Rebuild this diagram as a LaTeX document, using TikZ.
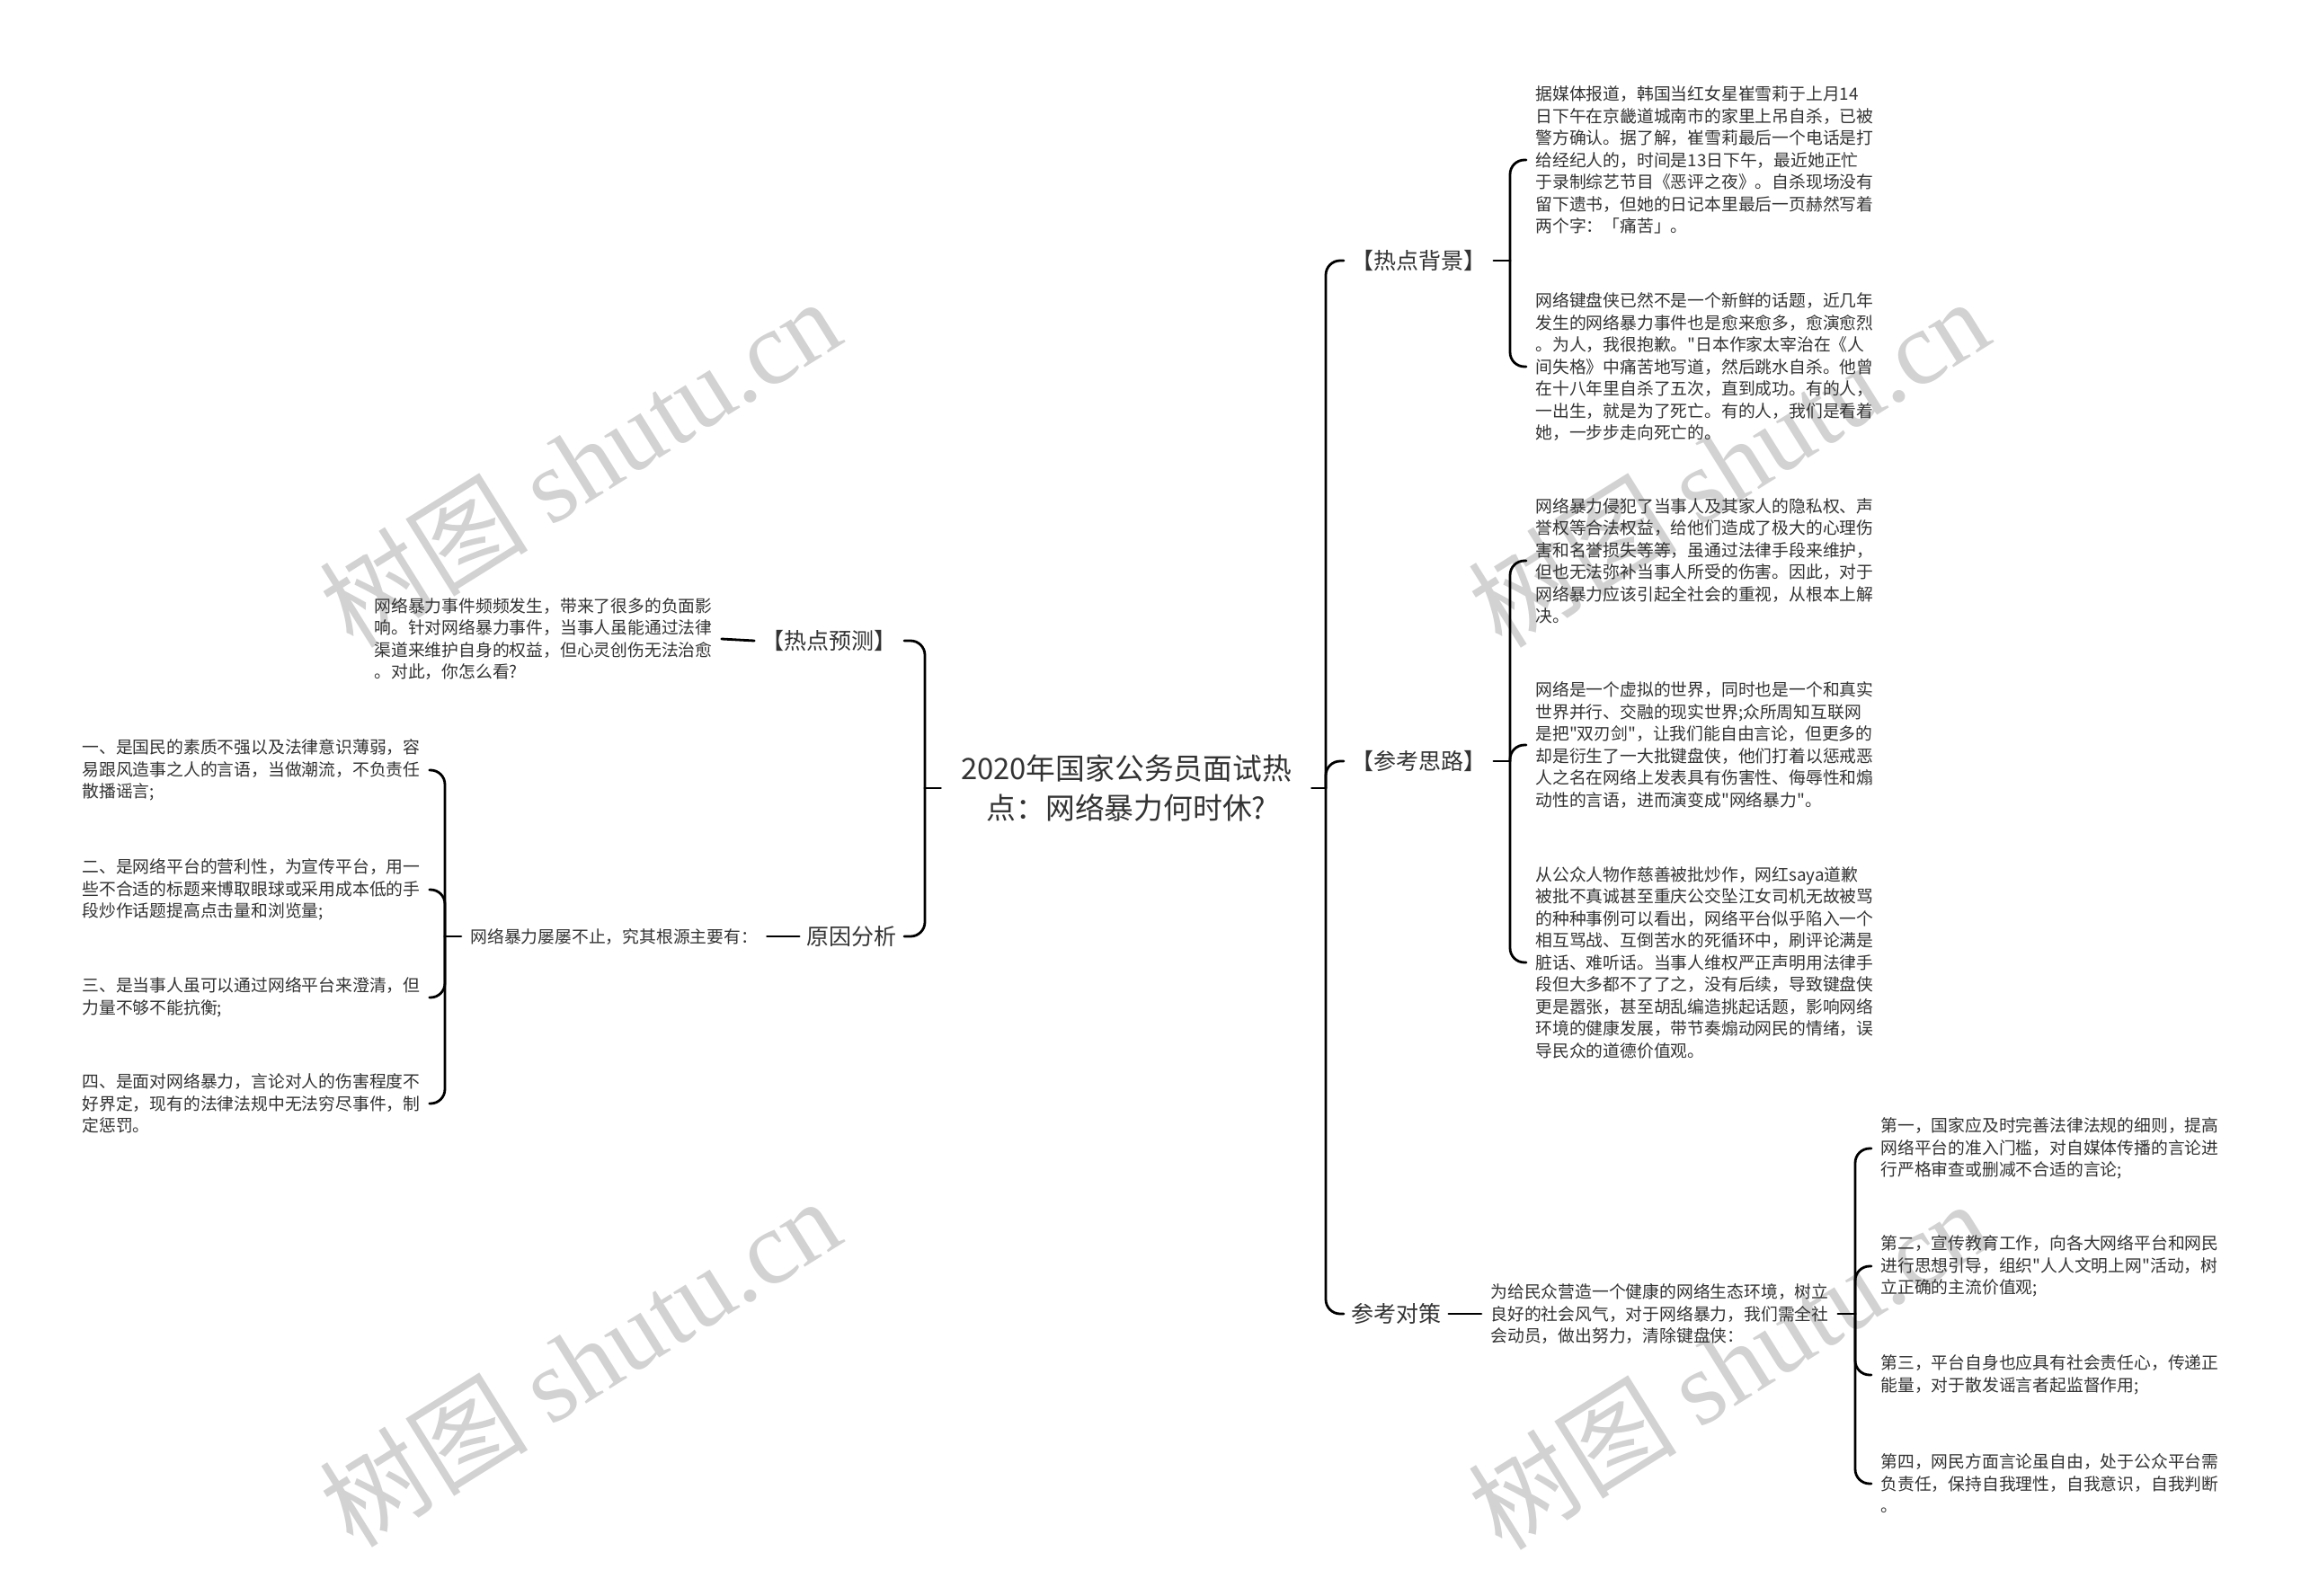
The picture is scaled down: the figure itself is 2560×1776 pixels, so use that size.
\documentclass[tikz,border=0pt]{standalone}
\usepackage{fontspec}
\setmainfont{Noto Sans CJK SC}
\newfontfamily\cjk{Noto Sans CJK SC}
\newfontfamily\wmserif{Liberation Serif}
\definecolor{txt}{HTML}{333333}
\definecolor{wm}{HTML}{D2D2D2}
\begin{document}
\begin{tikzpicture}[x=0.5pt, y=-0.5pt,
    main/.style={align=center, inner xsep=11pt, inner ysep=0pt, text=txt, font=\cjk\fontsize{16.4pt}{22pt}\selectfont},
    topic/.style={inner xsep=4pt, inner ysep=0pt, text=txt, font=\cjk\fontsize{12.5pt}{15pt}\selectfont},
    leaf/.style={anchor=west, align=left, inner xsep=5pt, inner ysep=0pt, text=txt, font=\cjk\fontsize{9.4pt}{12.25pt}\selectfont},
    branch/.style={line width=1.4pt, rounded corners=8pt, line cap=round},
    wmark/.style={rotate=32, text=wm, font=\cjk\fontsize{58pt}{60pt}\selectfont}]
                      \useasboundingbox (0,0) rectangle (2560,1776);
                      \fill[white] (0,0) rectangle (2560,1776);
                      % watermarks
                      \node[wmark] (wm1) at (645,514) {树图 {\wmserif shutu.cn}};
                      \node[wmark] (wm2) at (645,1515) {树图 {\wmserif shutu.cn}};
                      \node[wmark] (wm3) at (1923,514) {树图 {\wmserif shutu.cn}};
                      \node[wmark] (wm4) at (1923,1518) {树图 {\wmserif shutu.cn}};
                      % centre
                      \node[main] (root) at (1253,877) {2020年国家公务员面试热\\点：网络暴力何时休?};
                      \coordinate (rj) at (1475,877);
                      \coordinate (lj) at (1029,877);
                      \draw[branch] (root.east) -- (rj);
                      \draw[branch] (root.west) -- (lj);
                      % right side
                      \node[topic, anchor=west] (bg) at (1495,290) {【热点背景】};
                      \node[topic, anchor=west] (th) at (1495,847) {【参考思路】};
                      \node[topic, anchor=west] (cm) at (1495,1462) {参考对策};
                      \draw[branch] (rj) |- (bg.west);
                      \draw[branch] (rj) |- (th.west);
                      \draw[branch] (rj) |- (cm.west);
                      \node[leaf] (bg1) at (1698,178) {据媒体报道，韩国当红女星崔雪莉于上月14\\日下午在京畿道城南市的家里上吊自杀，已被\\警方确认。据了解，崔雪莉最后一个电话是打\\给经纪人的，时间是13日下午，最近她正忙\\于录制综艺节目《恶评之夜》。自杀现场没有\\留下遗书，但她的日记本里最后一页赫然写着\\两个字：「痛苦」。};
                      \node[leaf] (bg2) at (1698,408) {网络键盘侠已然不是一个新鲜的话题，近几年\\发生的网络暴力事件也是愈来愈多，愈演愈烈\\。为人，我很抱歉。"日本作家太宰治在《人\\间失格》中痛苦地写道，然后跳水自杀。他曾\\在十八年里自杀了五次，直到成功。有的人，\\一出生，就是为了死亡。有的人，我们是看着\\她，一步步走向死亡的。};
                      \coordinate (bgj) at (1680,290);
                      \draw[branch] (bg.east) -- (bgj);
                      \draw[branch] (bgj) |- (bg1.west);
                      \draw[branch] (bgj) |- (bg2.west);
                      \node[leaf] (th1) at (1698,624) {网络暴力侵犯了当事人及其家人的隐私权、声\\誉权等合法权益，给他们造成了极大的心理伤\\害和名誉损失等等，虽通过法律手段来维护，\\但也无法弥补当事人所受的伤害。因此，对于\\网络暴力应该引起全社会的重视，从根本上解\\决。};
                      \node[leaf] (th2) at (1698,829) {网络是一个虚拟的世界，同时也是一个和真实\\世界并行、交融的现实世界;众所周知互联网\\是把"双刃剑"，让我们能自由言论，但更多的\\却是衍生了一大批键盘侠，他们打着以惩戒恶\\人之名在网络上发表具有伤害性、侮辱性和煽\\动性的言语，进而演变成"网络暴力"。};
                      \node[leaf] (th3) at (1698,1071) {从公众人物作慈善被批炒作，网红saya道歉\\被批不真诚甚至重庆公交坠江女司机无故被骂\\的种种事例可以看出，网络平台似乎陷入一个\\相互骂战、互倒苦水的死循环中，刷评论满是\\脏话、难听话。当事人维权严正声明用法律手\\段但大多都不了了之，没有后续，导致键盘侠\\更是嚣张，甚至胡乱编造挑起话题，影响网络\\环境的健康发展，带节奏煽动网民的情绪，误\\导民众的道德价值观。};
                      \coordinate (thj) at (1680,847);
                      \draw[branch] (th.east) -- (thj);
                      \draw[branch] (thj) |- (th1.west);
                      \draw[branch] (thj) |- (th2.west);
                      \draw[branch] (thj) |- (th3.west);
                      \node[leaf] (cm0) at (1648,1462) {为给民众营造一个健康的网络生态环境，树立\\良好的社会风气，对于网络暴力，我们需全社\\会动员，做出努力，清除键盘侠：};
                      \draw[branch] (cm.east) -- (cm0.west);
                      \node[leaf] (cm1) at (2082,1278) {第一，国家应及时完善法律法规的细则，提高\\网络平台的准入门槛，对自媒体传播的言论进\\行严格审查或删减不合适的言论;};
                      \node[leaf] (cm2) at (2082,1409) {第二，宣传教育工作，向各大网络平台和网民\\进行思想引导，组织"人人文明上网"活动，树\\立正确的主流价值观;};
                      \node[leaf] (cm3) at (2082,1530) {第三，平台自身也应具有社会责任心，传递正\\能量，对于散发谣言者起监督作用;};
                      \node[leaf] (cm4) at (2082,1651) {第四，网民方面言论虽自由，处于公众平台需\\负责任，保持自我理性，自我意识，自我判断\\。};
                      \coordinate (cmj) at (2064,1462);
                      \draw[branch] (cm0.east) -- (cmj);
                      \draw[branch] (cmj) |- (cm1.west);
                      \draw[branch] (cmj) |- (cm2.west);
                      \draw[branch] (cmj) |- (cm3.west);
                      \draw[branch] (cmj) |- (cm4.west);
                      % left side
                      \node[topic, anchor=east] (pr) at (1006,713) {【热点预测】};
                      \node[topic, anchor=east] (ca) at (1006,1042) {原因分析};
                      \draw[branch] (lj) |- (pr.east);
                      \draw[branch] (lj) |- (ca.east);
                      \node[leaf] (pr1) at (406,711) {网络暴力事件频频发生，带来了很多的负面影\\响。针对网络暴力事件，当事人虽能通过法律\\渠道来维护自身的权益，但心灵创伤无法治愈\\。对此，你怎么看?};
                      \draw[branch] (pr.west) -- (pr1.east);
                      \node[leaf] (ca0) at (513,1042) {网络暴力屡屡不止，究其根源主要有：};
                      \draw[branch] (ca.west) -- (ca0.east);
                      \node[leaf] (ca1) at (81,857) {一、是国民的素质不强以及法律意识薄弱，容\\易跟风造事之人的言语，当做潮流，不负责任\\散播谣言;};
                      \node[leaf] (ca2) at (81,990) {二、是网络平台的营利性，为宣传平台，用一\\些不合适的标题来博取眼球或采用成本低的手\\段炒作话题提高点击量和浏览量;};
                      \node[leaf] (ca3) at (81,1110) {三、是当事人虽可以通过网络平台来澄清，但\\力量不够不能抗衡;};
                      \node[leaf] (ca4) at (81,1228) {四、是面对网络暴力，言论对人的伤害程度不\\好界定，现有的法律法规中无法穷尽事件，制\\定惩罚。};
                      \coordinate (caj) at (495,1042);
                      \draw[branch] (ca0.west) -- (caj);
                      \draw[branch] (caj) |- (ca1.east);
                      \draw[branch] (caj) |- (ca2.east);
                      \draw[branch] (caj) |- (ca3.east);
                      \draw[branch] (caj) |- (ca4.east);
                  \end{tikzpicture}
\end{document}
